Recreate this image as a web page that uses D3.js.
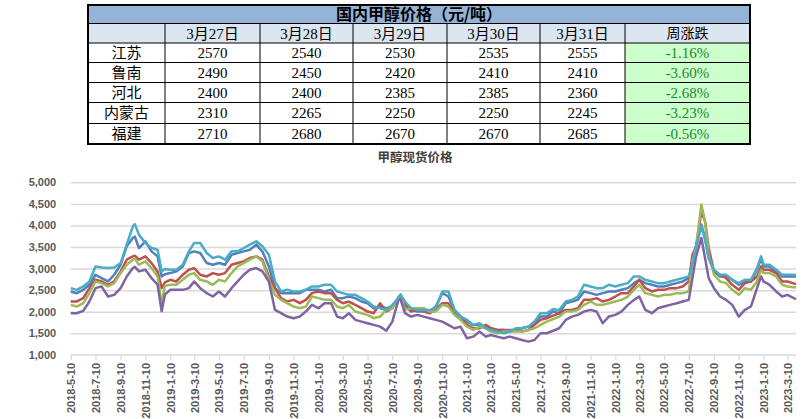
<!DOCTYPE html>
<html>
<head>
<meta charset="utf-8">
<script src="https://cdn.jsdelivr.net/npm/d3@7"></script>
<style>
body { margin: 0; background: #fff; }
svg { display: block; }
</style>
</head>
<body>
<svg id="chart" width="805" height="419"></svg>
<script>
// ---- table data ----
const tableTitle = '国内甲醇价格（元/吨）';
const tableDays = ['3月27日', '3月28日', '3月29日', '3月30日', '3月31日'];
const changeHeader = '周涨跌';
const regions = ['江苏', '鲁南', '河北', '内蒙古', '福建'];
const pricesJiangsu = [2570, 2540, 2530, 2535, 2555];
const pricesLunan = [2490, 2450, 2420, 2410, 2410];
const pricesHebei = [2400, 2400, 2385, 2385, 2360];
const pricesNeimenggu = [2310, 2265, 2250, 2250, 2245];
const pricesFujian = [2710, 2680, 2670, 2670, 2685];
const weekChange = ['-1.16%', '-3.60%', '-2.68%', '-3.23%', '-0.56%'];

// ---- chart data ----
const chartTitle = '甲醇现货价格';
const yTicks = [1000, 1500, 2000, 2500, 3000, 3500, 4000, 4500, 5000];
const xTickLabels = ['2018-5-10', '2018-7-10', '2018-9-10', '2018-11-10',
  '2019-1-10', '2019-3-10', '2019-5-10', '2019-7-10', '2019-9-10', '2019-11-10',
  '2020-1-10', '2020-3-10', '2020-5-10', '2020-7-10', '2020-9-10', '2020-11-10',
  '2021-1-10', '2021-3-10', '2021-5-10', '2021-7-10', '2021-9-10', '2021-11-10',
  '2022-1-10', '2022-3-10', '2022-5-10', '2022-7-10', '2022-9-10', '2022-11-10',
  '2023-1-10', '2023-3-10'];
const xEnd = '2023-3-31';

const dates = [
  '2018-5-10', '2018-5-25', '2018-6-10', '2018-6-25', '2018-7-10', '2018-7-25', '2018-8-10', '2018-8-25', '2018-9-10', '2018-9-25',
  '2018-10-10', '2018-10-15', '2018-10-25', '2018-11-10', '2018-11-25', '2018-12-10', '2018-12-20', '2018-12-28',
  '2019-1-10', '2019-1-25', '2019-2-10', '2019-2-25', '2019-3-10', '2019-3-25', '2019-4-10', '2019-4-25', '2019-5-10', '2019-5-25',
  '2019-6-10', '2019-6-25', '2019-7-10', '2019-7-25', '2019-8-10', '2019-8-25', '2019-9-10', '2019-9-25', '2019-10-10', '2019-10-25',
  '2019-11-10', '2019-11-25', '2019-12-10', '2019-12-25',
  '2020-1-10', '2020-1-25', '2020-2-10', '2020-2-25', '2020-3-10', '2020-3-25', '2020-4-10', '2020-4-25', '2020-5-10', '2020-5-25',
  '2020-6-10', '2020-6-25', '2020-7-10', '2020-7-25', '2020-7-30', '2020-8-10', '2020-8-25', '2020-9-10', '2020-9-25', '2020-10-10',
  '2020-10-25', '2020-11-10', '2020-11-25', '2020-12-10', '2020-12-25',
  '2021-1-10', '2021-1-25', '2021-2-10', '2021-2-25', '2021-3-10', '2021-3-25', '2021-4-10', '2021-4-25', '2021-5-10', '2021-5-25',
  '2021-6-10', '2021-6-25', '2021-7-10', '2021-7-25', '2021-8-10', '2021-8-25', '2021-9-10', '2021-9-25', '2021-10-10', '2021-10-25',
  '2021-11-10', '2021-11-25', '2021-12-10', '2021-12-25',
  '2022-1-10', '2022-1-25', '2022-2-10', '2022-2-25', '2022-3-10', '2022-3-25', '2022-4-10', '2022-4-25', '2022-5-10', '2022-5-25',
  '2022-6-10', '2022-6-25', '2022-7-10', '2022-7-19', '2022-7-28', '2022-8-10', '2022-8-19', '2022-8-28', '2022-9-10', '2022-9-25',
  '2022-10-10', '2022-10-25', '2022-11-10', '2022-11-25', '2022-12-10', '2022-12-25',
  '2023-1-4', '2023-1-10', '2023-1-25', '2023-2-10', '2023-2-25', '2023-3-10', '2023-3-31'
];

const jiangsu = [
  2470, 2430, 2508, 2625, 2857, 2780, 2702, 2857, 3090, 3516, 3710, 3740, 3477, 3632, 3400, 3283, 2818, 2870,
  2896, 2935, 3051, 3361, 3400, 3361, 3128, 3090, 3128, 3090, 3322, 3361, 3400, 3438, 3555, 3400, 3051, 2547, 2431, 2431, 2431, 2431, 2508, 2508,
  2508, 2470, 2508, 2315, 2315, 2353, 2315, 2237, 2198, 2082, 2121, 2082, 2121, 2315, 2392, 2160, 2043, 2005, 2005, 2005, 2121, 2431, 2353, 2043, 1888,
  1772, 1695, 1695, 1656, 1617, 1578, 1578, 1578, 1578, 1617, 1656, 1733, 1888, 1888, 2005, 1966, 2198, 2237, 2276, 2470, 2431, 2392, 2431, 2470,
  2470, 2508, 2547, 2663, 2740, 2663, 2625, 2586, 2586, 2625, 2663, 2702, 2779, 3090, 3516, 4020, 3710, 3245, 2935, 2818, 2818, 2740, 2625, 2702, 2702, 2973,
  3245, 3051, 3051, 2935, 2818, 2818, 2815
];
const lunan = [
  2237, 2240, 2315, 2547, 2740, 2702, 2625, 2702, 2935, 3206, 3283, 3300, 3206, 3283, 3128, 2935, 2547, 2680,
  2740, 2702, 2857, 2973, 3012, 2857, 2818, 2896, 2857, 2896, 3090, 3128, 3167, 3245, 3283, 3206, 2818, 2547, 2315, 2237, 2276, 2198, 2276, 2431,
  2470, 2431, 2431, 2276, 2198, 2237, 2160, 2082, 2005, 1966, 2198, 2005, 2082, 2315, 2392, 2160, 2005, 2043, 2005, 1966, 2043, 2198, 2198, 1966, 1888,
  1695, 1617, 1617, 1695, 1617, 1578, 1578, 1540, 1578, 1540, 1578, 1695, 1811, 1850, 1910, 1966, 2043, 2043, 2082, 2276, 2276, 2315, 2237, 2276,
  2353, 2431, 2431, 2586, 2740, 2547, 2470, 2508, 2508, 2547, 2547, 2586, 2702, 3322, 3516, 4330, 4097, 3477, 2935, 2857, 2779, 2625, 2508, 2663, 2702, 2818,
  3051, 2973, 2973, 2896, 2702, 2702, 2640
];
const hebei = [
  2160, 2120, 2200, 2430, 2700, 2663, 2586, 2663, 2896, 3090, 3206, 3230, 3090, 3167, 3012, 2818, 2200, 2600,
  2625, 2625, 2740, 2857, 2896, 2740, 2702, 2625, 2740, 2702, 2896, 3051, 3128, 3206, 3283, 3167, 2740, 2392, 2276, 2198, 2121, 2082, 2121, 2353,
  2315, 2276, 2276, 2121, 2082, 2160, 2005, 1966, 1927, 1850, 1888, 2043, 2082, 2353, 2380, 2043, 2082, 2082, 2082, 2005, 2005, 2160, 2121, 1927, 1811,
  1656, 1578, 1656, 1617, 1540, 1501, 1540, 1540, 1540, 1540, 1578, 1617, 1695, 1772, 1830, 1888, 2005, 2005, 2043, 2160, 2237, 2160, 2160, 2198,
  2237, 2276, 2353, 2508, 2625, 2431, 2392, 2353, 2392, 2392, 2431, 2431, 2470, 3167, 3516, 4485, 4097, 3322, 2857, 2702, 2663, 2508, 2392, 2547, 2508, 2702,
  2973, 2896, 2896, 2818, 2625, 2586, 2560
];
const neimenggu = [
  1966, 1965, 2020, 2237, 2547, 2586, 2353, 2392, 2547, 2818, 3012, 3040, 2935, 2973, 2780, 2625, 2010, 2400,
  2508, 2508, 2508, 2547, 2702, 2547, 2431, 2353, 2470, 2353, 2547, 2702, 2857, 2973, 3012, 2935, 2702, 2043, 1966, 1888, 1850, 1888, 2005, 2160,
  2082, 2198, 2198, 1888, 1850, 1966, 1811, 1772, 1733, 1695, 1656, 1560, 1772, 2276, 2290, 1966, 1888, 1927, 1888, 1850, 1811, 1772, 1695, 1617, 1656,
  1385, 1423, 1540, 1423, 1462, 1423, 1385, 1423, 1385, 1346, 1307, 1346, 1501, 1501, 1560, 1617, 1811, 1888, 1927, 2005, 2043, 2005, 1733, 1888,
  1927, 2005, 2160, 2276, 2353, 2043, 1966, 2082, 2121, 2160, 2198, 2237, 2276, 2779, 3283, 3710, 3245, 2779, 2547, 2353, 2276, 2160, 1888, 2043, 2121, 2547,
  2818, 2702, 2625, 2470, 2353, 2392, 2290
];
const fujian = [
  2547, 2508, 2586, 2700, 3050, 3027, 3012, 3027, 3128, 3555, 3981, 4030, 3787, 3594, 3477, 3438, 2935, 2990,
  2973, 2973, 3090, 3400, 3594, 3594, 3361, 3245, 3283, 3206, 3400, 3400, 3477, 3555, 3632, 3516, 3322, 2702, 2470, 2508, 2470, 2470, 2508, 2586,
  2586, 2625, 2625, 2470, 2431, 2392, 2392, 2315, 2237, 2121, 2082, 2043, 2160, 2315, 2400, 2237, 2082, 2043, 2043, 2043, 2082, 2470, 2470, 2043, 1888,
  1811, 1695, 1733, 1617, 1578, 1540, 1501, 1540, 1617, 1617, 1656, 1772, 1966, 1966, 2060, 2043, 2237, 2276, 2353, 2625, 2586, 2547, 2547, 2625,
  2586, 2625, 2663, 2818, 2818, 2740, 2702, 2663, 2663, 2702, 2740, 2779, 2818, 3090, 3516, 3981, 3671, 3245, 2973, 2857, 2857, 2740, 2663, 2740, 2740, 3012,
  3283, 3090, 3090, 2973, 2857, 2857, 2860
];

const seriesList = [
  { name: '江苏', values: jiangsu, color: '#4F81BD' },
  { name: '鲁南', values: lunan, color: '#C0504D' },
  { name: '河北', values: hebei, color: '#9BBB59' },
  { name: '内蒙古', values: neimenggu, color: '#8064A2' },
  { name: '福建', values: fujian, color: '#4BACC6' }
];
const tablePrices = [pricesJiangsu, pricesLunan, pricesHebei, pricesNeimenggu, pricesFujian];

const svg = d3.select('#chart');
const parseDate = d3.timeParse('%Y-%m-%d');

// ---------------- table ----------------
const colX = [88, 165, 260, 353, 447, 540, 625, 750];
const rowY = [5, 23.5, 43, 62.5, 82.5, 102.5, 123.5, 144];
const cjk = '"Noto Sans CJK SC", "Noto Sans", sans-serif';
const serif = '"Liberation Serif", "Noto Sans CJK SC", serif';

const table = svg.append('g');

table.append('rect')
  .attr('x', colX[0]).attr('y', rowY[0])
  .attr('width', colX[7] - colX[0]).attr('height', rowY[1] - rowY[0])
  .attr('fill', '#95B3D7');
table.append('rect')
  .attr('x', colX[0]).attr('y', rowY[1])
  .attr('width', colX[7] - colX[0]).attr('height', rowY[2] - rowY[1])
  .attr('fill', '#DCE6F1');
table.append('rect')
  .attr('x', colX[6]).attr('y', rowY[2])
  .attr('width', colX[7] - colX[6]).attr('height', rowY[7] - rowY[2])
  .attr('fill', '#CCFFCC');

// grid lines
rowY.slice(1, 7).forEach(yy => {
  table.append('line')
    .attr('x1', colX[0]).attr('x2', colX[7])
    .attr('y1', yy).attr('y2', yy)
    .attr('stroke', '#000').attr('stroke-width', 1);
});
colX.slice(1, 7).forEach(xx => {
  table.append('line')
    .attr('x1', xx).attr('x2', xx)
    .attr('y1', rowY[1]).attr('y2', rowY[7])
    .attr('stroke', '#000').attr('stroke-width', 1);
});
table.append('rect')
  .attr('x', colX[0]).attr('y', rowY[0])
  .attr('width', colX[7] - colX[0]).attr('height', rowY[7] - rowY[0])
  .attr('fill', 'none').attr('stroke', '#000').attr('stroke-width', 2);

function cellText(txt, ci, ri, opts) {
  table.append('text')
    .attr('x', (colX[ci] + colX[ci + 1]) / 2)
    .attr('y', (rowY[ri] + rowY[ri + 1]) / 2)
    .attr('dy', '0.35em')
    .attr('text-anchor', 'middle')
    .style('font-family', opts.font || serif)
    .style('font-size', (opts.size || 15) + 'px')
    .style('font-weight', opts.bold ? 'bold' : 'normal')
    .attr('fill', opts.color || '#000')
    .text(txt);
}

table.append('text')
  .attr('x', (colX[0] + colX[7]) / 2)
  .attr('y', (rowY[0] + rowY[1]) / 2)
  .attr('dy', '0.36em')
  .attr('text-anchor', 'middle')
  .style('font-family', cjk)
  .style('font-size', '16px')
  .style('font-weight', 'bold')
  .text(tableTitle);

tableDays.forEach((d, i) => cellText(d, i + 1, 1, {}));
cellText(changeHeader, 6, 1, { font: cjk, size: 14 });
regions.forEach((r, i) => {
  cellText(r, 0, i + 2, { font: cjk, size: 15 });
  tablePrices[i].forEach((p, j) => cellText(p, j + 1, i + 2, {}));
  cellText(weekChange[i], 6, i + 2, { color: '#1A8A2E' });
});

// ---------------- chart ----------------
const plotLeft = 70.7, plotRight = 796, plotTop = 182.3, plotBottom = 354.9;

svg.append('text')
  .attr('x', 415).attr('y', 158).attr('dy', '0.35em')
  .attr('text-anchor', 'middle')
  .style('font-family', cjk)
  .style('font-size', '12.5px')
  .style('font-weight', 'bold')
  .attr('fill', '#404040')
  .text(chartTitle);

const x = d3.scaleTime()
  .domain([parseDate(xTickLabels[0]), parseDate(xEnd)])
  .range([plotLeft, plotRight]);
const y = d3.scaleLinear().domain([1000, 5000]).range([plotBottom, plotTop]);

// gridlines
const grid = svg.append('g')
  .attr('transform', `translate(${plotLeft},0)`)
  .call(d3.axisLeft(y).tickValues(yTicks.slice(1)).tickSize(-(plotRight - plotLeft)).tickFormat(''));
grid.select('.domain').remove();
grid.selectAll('line').attr('stroke', '#D9D9D9').attr('stroke-width', 1.5);

// y axis labels
const yAxis = svg.append('g')
  .attr('transform', `translate(${plotLeft},0)`)
  .call(d3.axisLeft(y).tickValues(yTicks).tickSize(0).tickPadding(14.5).tickFormat(d3.format(',')));
yAxis.select('.domain').remove();
yAxis.selectAll('text')
  .style('font-family', '"Liberation Sans", Arial, sans-serif')
  .style('font-size', '11px')
  .style('font-weight', 'bold')
  .attr('fill', '#595959');

// x axis
const xAxis = svg.append('g')
  .attr('transform', `translate(0,${plotBottom})`)
  .call(d3.axisBottom(x)
    .tickValues(xTickLabels.map(parseDate))
    .tickSize(5)
    .tickFormat(d3.timeFormat('%Y-%-m-%-d')));
xAxis.select('.domain')
  .attr('d', `M${plotLeft},0H${plotRight}`)
  .attr('stroke', '#D9D9D9').attr('stroke-width', 1.5);
xAxis.selectAll('.tick line').attr('stroke', '#D9D9D9').attr('stroke-width', 1.2);
xAxis.selectAll('text')
  .attr('transform', 'rotate(-90)')
  .attr('x', -8)
  .attr('y', 0)
  .attr('dy', '0.35em')
  .attr('text-anchor', 'end')
  .style('font-family', '"Liberation Sans", Arial, sans-serif')
  .style('font-size', '11px')
  .style('font-weight', 'bold')
  .attr('fill', '#595959');

// lines
const dateObjs = dates.map(parseDate);
const line = d3.line()
  .x((d, i) => x(dateObjs[i]))
  .y(d => y(d));

svg.append('g').selectAll('path')
  .data(seriesList)
  .enter()
  .append('path')
  .attr('d', d => line(d.values))
  .attr('fill', 'none')
  .attr('stroke', d => d.color)
  .attr('stroke-width', 2.5)
  .attr('stroke-linejoin', 'round');
</script>
</body>
</html>
